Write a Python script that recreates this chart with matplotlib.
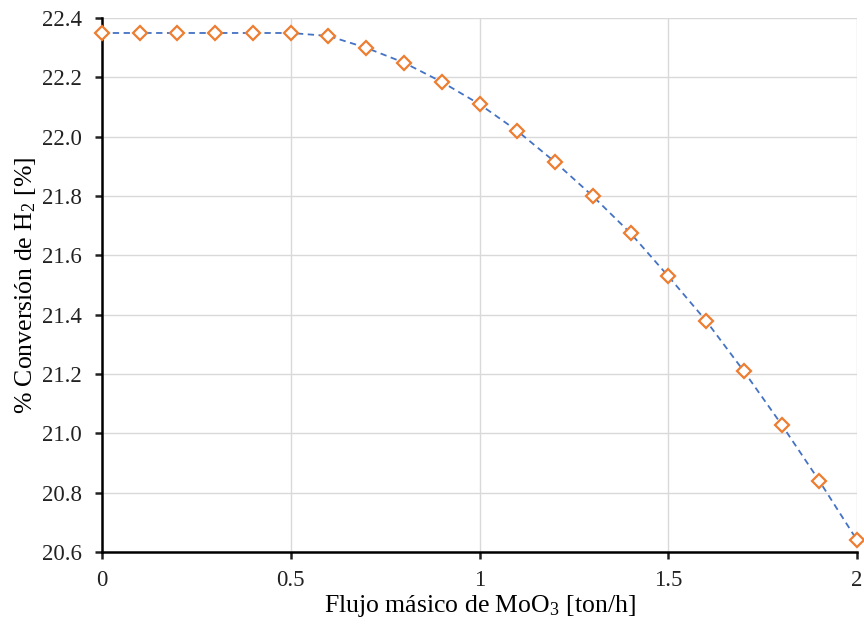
import matplotlib
matplotlib.use("Agg")
import matplotlib.pyplot as plt

# ---------------------------------------------------------------- data
flujo = [0.0, 0.1, 0.2, 0.3, 0.4, 0.5, 0.6, 0.7, 0.8, 0.9, 1.0,
         1.1, 1.2, 1.3, 1.4, 1.5, 1.6, 1.7, 1.8, 1.9, 2.0]
conversion = [22.35, 22.35, 22.35, 22.35, 22.35, 22.35, 22.34, 22.30, 22.25,
              22.185, 22.11, 22.02, 21.915, 21.80, 21.675, 21.53, 21.38,
              21.21, 21.03, 20.84, 20.64]
xticks = [0, 0.5, 1, 1.5, 2]
xticklabels = ["0", "0.5", "1", "1.5", "2"]
yticks = [20.6, 20.8, 21.0, 21.2, 21.4, 21.6, 21.8, 22.0, 22.2, 22.4]

plt.rcParams["font.family"] = ["Liberation Serif", "DejaVu Serif"]
plt.rcParams["mathtext.default"] = "regular"

fig = plt.figure(figsize=(8.64, 6.26), dpi=100)
ax = fig.add_axes([0.118, 0.118, 0.874, 0.853])

ax.plot(flujo, conversion, linestyle="--", color="#4472C4", lw=1.3,
        dashes=(3.5, 2.5), zorder=2)
ax.plot(flujo, conversion, linestyle="none", marker="D", markersize=7.5,
        markerfacecolor="white", markeredgecolor="#ED7D31", markeredgewidth=1.6,
        zorder=3, clip_on=False)

ax.set_xlim(0, 2)
ax.set_ylim(20.6, 22.4)
ax.set_xticks(xticks)
ax.set_xticklabels(xticklabels)
ax.set_yticks(yticks)
ax.set_yticklabels([f"{v:.1f}" for v in yticks])

ax.grid(True, color="#d9d9d9", lw=1.0)
ax.set_axisbelow(True)
for s in ["top", "right"]:
    ax.spines[s].set_visible(False)
for s in ["left", "bottom"]:
    ax.spines[s].set_linewidth(1.8)
    ax.spines[s].set_color("black")
ax.tick_params(axis="both", direction="out", length=5, width=1.8,
               labelsize=16.5, colors="#222222")
ax.tick_params(axis="x", pad=8)
ax.tick_params(axis="y", pad=9.5)

ax.set_xlabel("Flujo másico de MoO$_3$ [ton/h]", fontsize=18.5, labelpad=1)
ax.set_ylabel("% Conversión de H$_2$ [%]", fontsize=18.5, labelpad=2.5)

fig.savefig("out.png", dpi=100)
